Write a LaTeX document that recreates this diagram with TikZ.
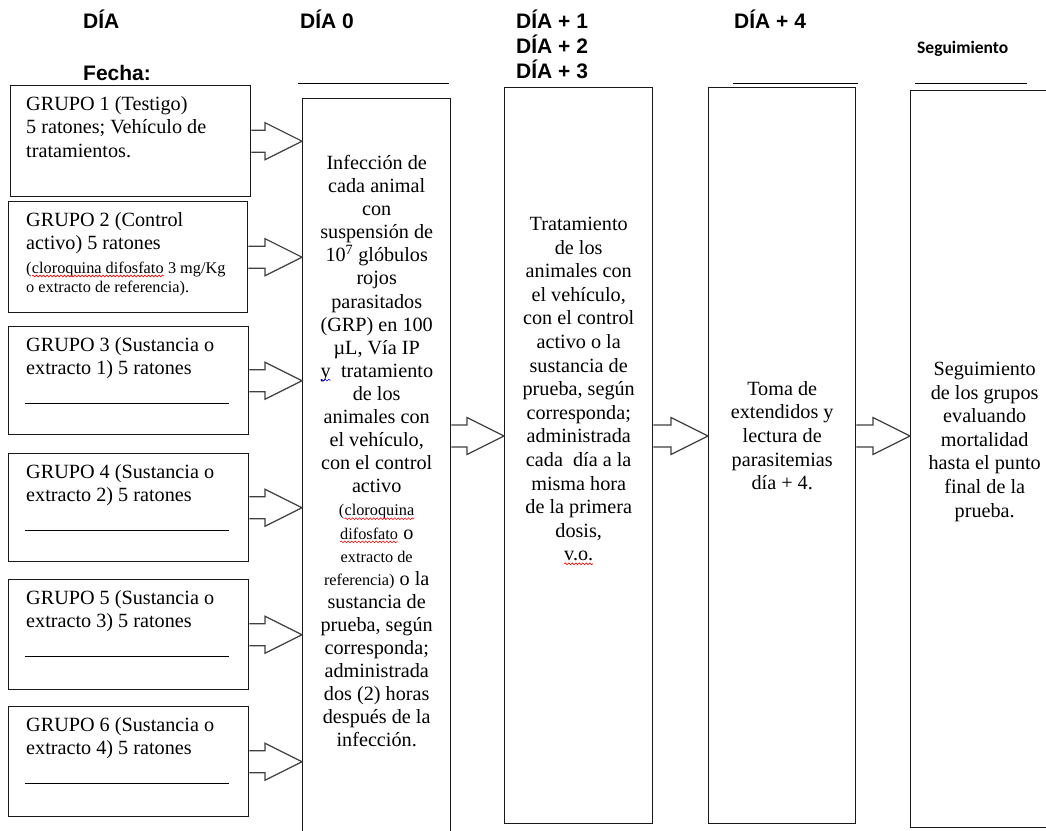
\documentclass[tikz,border=0pt]{standalone}
\usepackage{fontspec}
\setmainfont{Liberation Serif}
\newfontfamily\arialfont{Liberation Sans}
\newfontfamily\calibrifont{Carlito}
\usepackage{tikz}
\usetikzlibrary{positioning,calc,decorations.pathmorphing}
% subrayado ondulado del corrector
\newcommand\ondita[2]{\tikz[baseline=(w.base)]{\node[inner sep=0pt,outer sep=0pt,draw=none,font={},anchor=base] (w) {#2};
  \draw[#1,line width=0.6pt,decorate,decoration={snake,amplitude=0.9pt,segment length=3.5pt}] ([yshift=-2.8pt]w.base west) -- ([yshift=-2.8pt]w.base east);}}
\newcommand\chico[1]{{\fontsize{16.3}{19}\selectfont #1}}
\tikzset{
  caja/.style={draw=black!90,line width=1.4pt,anchor=north west,inner sep=0pt},
  columna/.style={caja,minimum width=148pt,minimum height=736pt},
  gtexto/.style={anchor=north west,align=left,inner sep=0pt,font=\fontsize{20.2}{23.5}\selectfont},
  ctexto/.style={anchor=north,align=center,inner sep=0pt,font=\fontsize{20.2}{23.6}\selectfont},
  dia/.style={anchor=base west,inner sep=0pt,font=\arialfont\bfseries\fontsize{21}{25}\selectfont},
  raya/.style={black,line width=1pt},
  flecha/.style={draw=black!75,line width=1.2pt,fill=white,line join=miter}
}

\begin{document}
\begin{tikzpicture}[x=1pt,y=-1pt]
  \useasboundingbox (0,0) rectangle (1046,830);
  % encabezados
  \node[dia] (hdia) at (83,28) {DÍA};
  \node[dia] (hfecha) at (83,80) {Fecha:};
  \node[dia] (hdia0) at (300,28) {DÍA 0};
  \foreach \k/\y in {1/28,2/53,3/78}{
    \node[dia] (hdiamas\k) at (516,\y) {DÍA + \k};
  }
  \node[dia] (hdia4) at (734,28) {DÍA + 4};
  \node[anchor=base west,inner sep=0pt,font=\calibrifont\bfseries\fontsize{17.5}{20}\selectfont] (hseg) at (917,53) {Seguimiento};
  \draw[raya] (298,83) -- (449,83);
  \draw[raya] (733,83) -- (858,83);
  \draw[raya] (915,83) -- (1027,83);

  % grupos
  \node[caja,minimum width=240pt,minimum height=111pt] (g1) at (10,85) {};
  \node[gtexto] (g1txt) at ($(g1.north west)+(16,11)$) {GRUPO 1 (Testigo)\\5 ratones; Vehículo de\\tratamientos.};
  \node[caja,minimum width=239pt,minimum height=111pt] (g2) at (8,201) {};
  \node[gtexto] (g2txt) at ($(g2.north west)+(18,11)$) {GRUPO 2 (Control\\activo) 5 ratones\\\chico{(\ondita{red}{cloroquina difosfato} 3 mg/Kg}\\[-4.5pt]\chico{o extracto de referencia).}};
  \foreach \n/\y/\h in {3/326/108,4/453/108,5/579/110,6/706/110}{
    \pgfmathtruncatemacro{\m}{\n-2}
    \node[caja,minimum width=240pt,minimum height=\h pt] (g\n) at (8,\y) {};
    \node[gtexto] (g\n txt) at ($(g\n.north west)+(18,11)$) {GRUPO \n\ (Sustancia o\\extracto \m) 5 ratones};
    \draw[raya] ($(g\n.north west)+(17,77)$) -- ++(204,0);
  }

  % columnas
  \node[caja,minimum width=148pt,minimum height=745pt] (dia0) at (302,98) {};
  \node[ctexto,font=\fontsize{20.2}{23.1}\selectfont,below=57pt of dia0.north] (dia0txt) {Infección de\\cada animal\\con\\suspensión de\\10\textsuperscript{7} glóbulos\\rojos\\parasitados\\(GRP) en 100\\µL, Vía IP\\\ondita{blue}{y}\ \ tratamiento\\de los\\animales con\\el vehículo,\\con el control\\activo\\\chico{(\ondita{red}{cloroquina}}\\\chico{\ondita{red}{difosfato}} o\\\chico{extracto de}\\\chico{referencia)} o la\\sustancia de\\prueba, según\\corresponda;\\administrada\\dos (2) horas\\después de la\\infección.};
  \node[columna] (trat) at (504,87) {};
  \node[ctexto,below=130pt of trat.north] (trattxt) {Tratamiento\\de los\\animales con\\el vehículo,\\con el control\\activo o la\\sustancia de\\prueba, según\\corresponda;\\administrada\\cada\ \ día a la\\misma hora\\de la primera\\dosis,\\\ondita{red}{v.o.}};
  \node[columna,minimum width=147pt] (toma) at (708,87) {};
  \node[ctexto,below=294pt of toma.north] (tomatxt) {Toma de\\extendidos y\\lectura de\\parasitemias\\día + 4.};
  \node[columna,minimum height=737pt] (segu) at (910,90) {};
  \node[ctexto,below=272pt of segu.north] (segutxt) {Seguimiento\\de los grupos\\evaluando\\mortalidad\\hasta el punto\\final de la\\prueba.};

  % flechas
  \coordinate (nivel) at (0,436);
  \foreach \a/\b/\c in {g1/dia0/g1,g2/dia0/g2,g3/dia0/g3,g4/dia0/g4,g5/dia0/g5,g6/dia0/g6,dia0/trat/nivel,trat/toma/nivel,toma/segu/nivel}{
    \coordinate (ini) at (\a.east |- \c);
    \coordinate (fin) at (\b.west |- \c);
    \draw[flecha] ($(ini)+(0,-11)$) -- ($(fin)+(-37,-11)$) -- ($(fin)+(-37,-18.5)$) -- (fin)
      -- ($(fin)+(-37,18.5)$) -- ($(fin)+(-37,11)$) -- ($(ini)+(0,11)$);
  }
\end{tikzpicture}
\end{document}
